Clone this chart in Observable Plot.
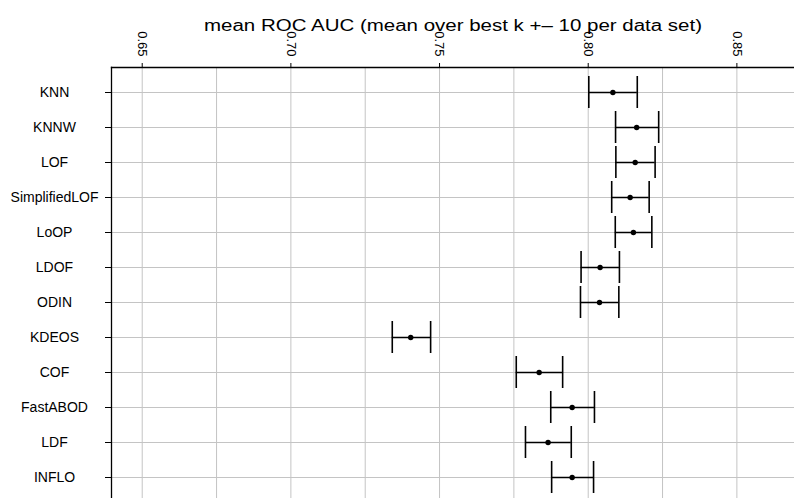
<!DOCTYPE html>
<html>
<head>
<meta charset="utf-8">
<script src="https://cdn.jsdelivr.net/npm/d3@7"></script>
<script src="https://cdn.jsdelivr.net/npm/@observablehq/plot@0.6"></script>
<style>
  html, body { margin: 0; padding: 0; background: #fff; }
  svg { font-family: "Liberation Sans", Arial, Helvetica, sans-serif; }
</style>
</head>
<body>
<div id="chart"></div>
<script>
// Outlier detection methods, mean ROC AUC with interval bounds
const methods = ["KNN", "KNNW", "LOF", "SimplifiedLOF", "LoOP", "LDOF", "ODIN",
                 "KDEOS", "COF", "FastABOD", "LDF", "INFLO"];
const lower = [0.8002, 0.8092, 0.8093, 0.8079, 0.8091, 0.7976, 0.7974,
               0.7341, 0.7758, 0.7874, 0.7789, 0.7877];
const meanAuc = [0.8083, 0.8163, 0.8158, 0.8141, 0.8152, 0.8040, 0.8038,
                 0.7403, 0.7835, 0.7946, 0.7865, 0.7946];
const upper = [0.8165, 0.8237, 0.8225, 0.8205, 0.8214, 0.8105, 0.8103,
               0.7470, 0.7914, 0.8021, 0.7943, 0.8018];
const labelTicks = [0.65, 0.70, 0.75, 0.80, 0.85];
const gridTicks = [0.65, 0.675, 0.70, 0.725, 0.75, 0.775, 0.80, 0.825, 0.85];
const title = "mean ROC AUC (mean over best k +\u2013 10 per data set)";

const rows = methods.map((m, i) => ({method: m, lo: lower[i], mean: meanAuc[i], hi: upper[i]}));

const chart = Plot.plot({
  width: 794,
  height: 498,
  marginTop: 67,
  marginLeft: 111,
  marginRight: 0,
  marginBottom: 0,
  x: {domain: [0.63967, 0.86938]},
  y: {type: "band", domain: methods, range: [69.7, 499], padding: 0.1},
  marks: [
    Plot.gridX(gridTicks, {stroke: "#c4c4c4", strokeOpacity: 1, strokeWidth: 1}),
    Plot.gridY(methods, {stroke: "#c4c4c4", strokeOpacity: 1, strokeWidth: 1}),
    Plot.frame({anchor: "left", stroke: "#000", strokeWidth: 1.3}),
    Plot.frame({anchor: "top", stroke: "#000", strokeWidth: 1.3}),
    Plot.axisX({anchor: "top", ticks: labelTicks, tickFormat: d3.format(".2f"),
                tickSize: 5, tickPadding: 6, tickRotate: 90, fontSize: 13,
                label: null, stroke: "#000", fill: "#000"}),
    Plot.axisY({anchor: "left", tickSize: 6, tickPadding: 51, textAnchor: "middle",
                fontSize: 14, label: null, stroke: "#000", fill: "#000"}),
    Plot.ruleY(rows, {y: "method", x1: "lo", x2: "hi", stroke: "#000", strokeWidth: 1.6}),
    Plot.tickX(rows, {x: "lo", y: "method", stroke: "#000", strokeWidth: 1.6}),
    Plot.tickX(rows, {x: "hi", y: "method", stroke: "#000", strokeWidth: 1.6}),
    Plot.dot(rows, {x: "mean", y: "method", r: 2.7, fill: "#000", stroke: null}),
    Plot.text([title], {frameAnchor: "top", dy: -48, fontSize: 16, fill: "#000"})
  ]
});

// widen the title glyphs to span the plot heading
d3.select(chart).selectAll("text")
  .filter(function () { return this.textContent === title; })
  .attr("textLength", 498)
  .attr("lengthAdjust", "spacingAndGlyphs");

document.getElementById("chart").appendChild(chart);
</script>
</body>
</html>
